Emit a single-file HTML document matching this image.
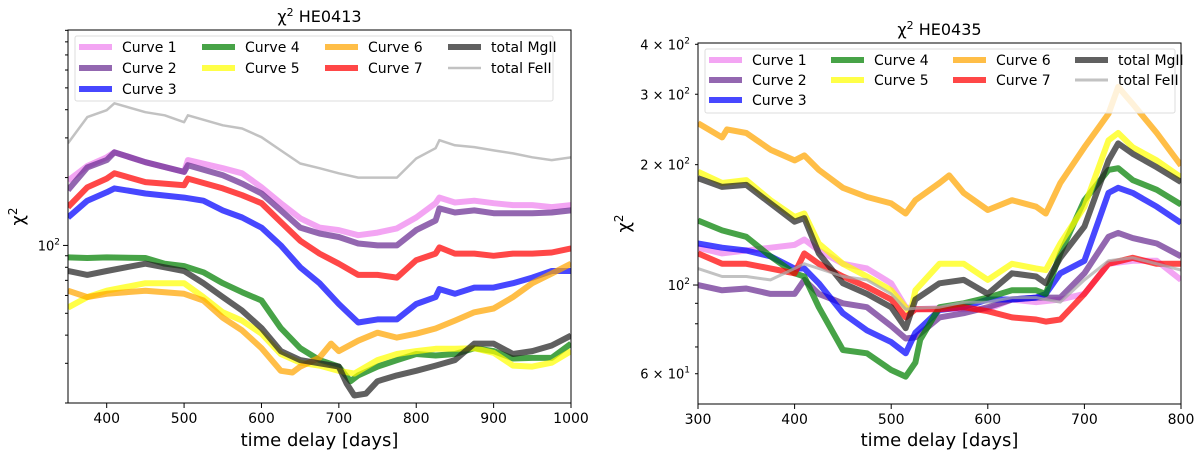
<!DOCTYPE html>
<html><head><meta charset="utf-8">
<style>
html,body{margin:0;padding:0;background:#fff;}
svg{display:block;font-family:"DejaVu Sans","Liberation Sans",sans-serif;}
</style></head>
<body>
<svg id="chart" width="1200" height="455" viewBox="0 0 1200 455" xmlns="http://www.w3.org/2000/svg"></svg>
<script>
// ---------- Data: HE0413 (left) ----------
const leftC1 = [[350,194],[375,225],[400,246],[410,259],[450,234],[500,212],[505,239],[550,220],[575,209],[600,181],[625,154],[650,132],[675,120],[700,117],[725,111],[750,114],[775,119],[800,133],[825,154],[830,163],[850,155],[875,158],[900,154],[925,151],[950,151],[975,148],[1000,151]];
const leftC2 = [[350,176],[375,222],[400,239],[410,259],[450,234],[500,212],[505,227],[550,205],[575,188],[600,170],[625,143],[650,120],[675,113],[700,109],[725,102],[750,100],[775,100],[800,117],[825,129],[830,146],[850,140],[875,143],[900,139],[925,139],[950,139],[975,140],[1000,143]];
const leftC3 = [[350,133],[375,158],[400,172],[410,179],[450,170],[500,163],[525,158],[550,143],[575,133],[600,120],[625,100],[650,80],[675,68],[700,55],[725,45.5],[750,47],[775,47],[800,55],[825,59],[830,64],[850,61],[875,65],[900,65],[925,68],[950,72],[975,77],[1000,77]];
const leftC4 = [[350,88.5],[375,88],[400,88.5],[450,88],[475,83],[500,81],[525,76],[550,68],[575,62],[600,57],[625,43],[650,35],[675,31],[700,29],[715,25],[725,26.5],[750,29],[775,31],[800,33],[825,32.5],[850,33],[875,35],[900,34],[925,31.5],[950,31.7],[975,31.7],[1000,36.7]];
const leftC5 = [[350,53],[375,59],[400,63],[450,68],[500,68],[525,59],[550,50.5],[575,46.4],[600,40.6],[625,33],[650,30.2],[675,29.3],[700,27.8],[720,27],[750,31],[775,33],[800,34],[825,34.8],[850,34.8],[875,35],[900,33.4],[925,29.3],[950,29],[975,30.2],[1000,34]];
const leftC6 = [[350,63],[375,59],[400,61],[450,63],[500,61],[525,57],[550,47.8],[575,42],[600,35],[625,27.8],[640,27.3],[650,29],[675,31.8],[690,36.7],[700,34],[725,37.8],[750,41],[775,39],[800,40.6],[825,42.8],[850,46.4],[875,50.5],[900,52.5],[925,59],[950,68],[975,75],[1000,83]];
const leftC7 = [[350,148],[375,181],[400,198],[410,209],[450,191],[500,185],[505,198],[550,179],[575,167],[600,154],[625,127],[650,105],[675,92],[700,83],[725,74],[750,74],[775,72],[800,86],[825,92],[830,98],[850,92],[875,92],[900,90],[925,92],[950,92],[975,93],[1000,97]];
const leftMg = [[350,77],[375,74],[400,77],[425,80],[450,83],[475,80],[500,77],[525,68],[550,59],[575,51.4],[600,43],[625,34],[650,31],[675,30],[700,29],[710,24.4],[720,21.6],[735,22],[750,25],[775,26.5],[800,27.8],[825,29.3],[850,31],[875,36.7],[900,36.7],[925,33],[950,34],[975,36],[1000,39.8]];
const leftFe = [[350,284],[375,371],[400,398],[410,427],[450,390],[475,378],[500,352],[505,378],[550,341],[575,330],[600,302],[625,264],[650,231],[675,220],[700,209],[725,200],[750,200],[775,200],[800,243],[825,270],[830,293],[850,278],[875,273],[900,264],[925,256],[950,246],[975,239],[1000,246]];
// ---------- Data: HE0435 (right) ----------
const rightC1 = [[300,124],[325,120],[350,122],[375,124],[400,126],[410,130],[425,122],[450,113],[475,110],[500,101],[515,88],[525,87],[550,87.5],[575,87],[600,87],[625,92],[650,90.6],[675,92],[700,95],[725,113],[750,115],[775,115],[800,103]];
const rightC2 = [[300,100],[325,97],[350,98],[375,95],[400,95],[410,103],[425,95],[450,90],[475,88],[500,79],[515,73.5],[525,74],[550,83],[575,85],[600,88],[625,92],[650,93],[675,93],[700,107],[725,132],[735,135],[750,131],[775,127],[800,118]];
const rightC3 = [[300,127],[325,124],[350,122],[375,118],[400,110],[410,110],[425,101],[450,85],[475,77],[500,72],[515,67.5],[525,76],[550,86.6],[575,88],[600,92],[625,92],[650,93],[660,95],[675,107],[700,115],[725,170],[735,175],[750,170],[775,157],[800,143]];
const rightC4 = [[300,145],[325,137],[350,132],[375,118],[400,107],[410,105],[425,88],[450,68.8],[475,67.5],[500,61.3],[515,59],[525,64],[530,73],[550,88],[575,90],[600,93],[625,97],[650,97],[660,95],[675,120],[700,163],[725,194],[735,196],[750,183],[775,173],[800,159]];
const rightC5 = [[300,192],[325,180],[350,183],[375,163],[400,148],[410,151],[425,127],[450,113],[475,105],[500,97],[520,85],[525,97],[550,113],[575,113],[600,103],[625,113],[650,110],[660,109],[675,127],[700,157],[725,230],[735,240],[750,221],[775,205],[800,186]];
const rightC6 = [[300,254],[325,234],[330,245],[350,240],[375,218],[400,205],[410,211],[425,194],[450,175],[475,166],[500,160],[515,151],[525,163],[550,180],[560,188],[575,170],[600,154],[625,163],[650,157],[660,151],[675,180],[700,221],[725,268],[735,313],[750,284],[775,240],[800,199]];
const rightC7 = [[300,120],[325,113],[350,113],[375,110],[400,107],[410,120],[425,113],[450,105],[475,99],[500,92],[515,83],[525,87],[550,87],[575,88],[600,86],[625,83],[650,82],[660,81],[675,82],[700,95],[725,113],[750,117],[775,113],[800,113]];
const rightMg = [[300,185],[325,176],[350,178],[375,160],[400,144],[410,147],[425,120],[450,101],[475,95],[500,88],[515,78],[525,92],[550,101],[575,103],[600,95],[625,107],[650,105],[660,101],[675,117],[700,140],[725,205],[735,226],[750,213],[775,197],[800,181]];
const rightFe = [[300,110],[325,105],[350,105],[375,103],[400,110],[410,113],[425,110],[450,105],[475,103],[500,95],[515,87],[525,87.5],[550,88],[575,90.6],[600,90.6],[625,93],[650,93],[675,90.6],[700,103],[725,115],[750,117],[775,113],[800,109]];
const leftXTicks = [400,500,600,700,800,900,1000];
const rightXTicks = [300,400,500,600,700,800];
const legendLabels = ["Curve 1","Curve 2","Curve 3","Curve 4","Curve 5","Curve 6","Curve 7","total MgII","total FeII"];

const NS="http://www.w3.org/2000/svg";
const svg=document.getElementById('chart');
function mk(tag,attrs,parent){const e=document.createElementNS(NS,tag);for(const k in attrs)e.setAttribute(k,attrs[k]);(parent||svg).appendChild(e);return e;}

const colors=["violet","#6a2c91","blue","green","yellow","orange","red","#222","#aaa"];
const seriesNames=["curve-1","curve-2","curve-3","curve-4","curve-5","curve-6","curve-7","total-mgii","total-feii"];

function panel(cfg){
  const {L,R,T,B,xmin,xmax,ymin,ymax}=cfg;
  const g=mk('g',{});
  
  
  const xs=d=>L+(d-xmin)/(xmax-xmin)*(R-L);
  const ys=v=>B-(Math.log10(v)-Math.log10(ymin))/(Math.log10(ymax)-Math.log10(ymin))*(B-T);
  const cp=mk('clipPath',{id:cfg.name+'-clip'},g);
  mk('rect',{x:L,y:T,width:R-L,height:B-T},cp);
  const lines=mk('g',{'clip-path':'url(#'+cfg.name+'-clip)'},g);
  cfg.series.forEach((s,i)=>{
    const p=mk('polyline',{points:s.map(q=>xs(q[0]).toFixed(1)+','+ys(q[1]).toFixed(1)).join(' '),fill:'none',stroke:colors[i],'stroke-width':i===8?cfg.feW:cfg.lw,'stroke-opacity':0.72,'stroke-linejoin':'round'},lines);
    
    
  });
  const fr=mk('rect',{x:L,y:T,width:R-L,height:B-T,fill:'none',stroke:'#000','stroke-width':1},g);
  
  
  cfg.xticks.forEach(t=>{
    const x=xs(t);
    mk('line',{x1:x,x2:x,y1:B,y2:B+5,stroke:'#000'},g);
    const tx=mk('text',{x:x,y:B+20,'font-size':14,'text-anchor':'middle'},g);
    tx.textContent=t;
    
    
  });
  for(let e=1;e<=3;e++)for(let m=1;m<10;m++){
    const v=m*Math.pow(10,e);
    if(v<ymin-1e-9||v>ymax+1e-9)continue;
    const y=ys(v);
    mk('line',{x1:L-(m===1?5:3),x2:L,y1:y,y2:y,stroke:'#000'},g);
  }
  cfg.ylabels.forEach(l=>{
    const t=mk('text',{x:L-8,y:ys(l.v)+5,'font-size':13,'text-anchor':'end'},g);
    t.innerHTML=l.html;
    
    
  });
  const xt=mk('text',{x:(L+R)/2,y:446,'font-size':18,'text-anchor':'middle'},g);
  xt.textContent='time delay [days]';
  
  
  const yt=mk('text',{x:cfg.ylx,y:(T+B)/2,'font-size':18,'text-anchor':'middle',transform:'rotate(-90 '+cfg.ylx+' '+((T+B)/2)+')'},g);
  yt.innerHTML='χ<tspan dy="-7" font-size="12">2</tspan>';
  
  
  const ti=mk('text',{x:(L+R)/2,y:T-8,'font-size':16,'text-anchor':'middle'},g);
  ti.innerHTML='χ<tspan dy="-6" font-size="11">2</tspan><tspan dy="6"> '+cfg.title+'</tspan>';
  
  
  const lg=mk('g',{},g);
  
  
  mk('rect',{x:cfg.lx,y:cfg.ly,width:cfg.lwid,height:cfg.lh,fill:'#fff','fill-opacity':0.8,stroke:'#ddd',rx:2},lg);
  const order=[0,1,2,3,4,null,5,6,null,7,8,null];
  order.forEach((si,k)=>{
    if(si===null)return;
    const col=Math.floor(k/3),row=k%3;
    const hx=cfg.lx+4+col*cfg.colw, hy=cfg.ly+11+row*cfg.rowh;
    const h=mk('line',{x1:hx,x2:hx+33,y1:hy,y2:hy,stroke:colors[si],'stroke-width':si===8?cfg.feW:cfg.lw,'stroke-opacity':0.72},lg);
    
    
    const t=mk('text',{x:hx+43,y:hy+5,'font-size':14},lg);
    t.textContent=legendLabels[si];
    
    
  });
}

panel({name:'he0413-panel',L:68,R:571,T:30,B:403,xmin:350,xmax:1000,ymin:20,ymax:903,lw:6,feW:2.5,
  series:[leftC1,leftC2,leftC3,leftC4,leftC5,leftC6,leftC7,leftMg,leftFe],xticks:leftXTicks,
  ylabels:[{v:100,html:'10<tspan dy="-6" font-size="9">2</tspan>'}],ylx:24,title:'HE0413',
  lx:75,ly:36,lwid:478,lh:65,colw:123,rowh:21});
panel({name:'he0435-panel',L:698,R:1181,T:43,B:404,xmin:300,xmax:800,ymin:50.4,ymax:403,lw:6,feW:3,
  series:[rightC1,rightC2,rightC3,rightC4,rightC5,rightC6,rightC7,rightMg,rightFe],xticks:rightXTicks,
  ylabels:[{v:400,html:'4 × 10<tspan dy="-6" font-size="9">2</tspan>'},{v:300,html:'3 × 10<tspan dy="-6" font-size="9">2</tspan>'},{v:200,html:'2 × 10<tspan dy="-6" font-size="9">2</tspan>'},{v:100,html:'10<tspan dy="-6" font-size="9">2</tspan>'},{v:60,html:'6 × 10<tspan dy="-6" font-size="9">1</tspan>'}],
  ylx:630,title:'HE0435',lx:705,ly:49,lwid:470,lh:64,colw:122,rowh:20});
</script>
</body></html>
